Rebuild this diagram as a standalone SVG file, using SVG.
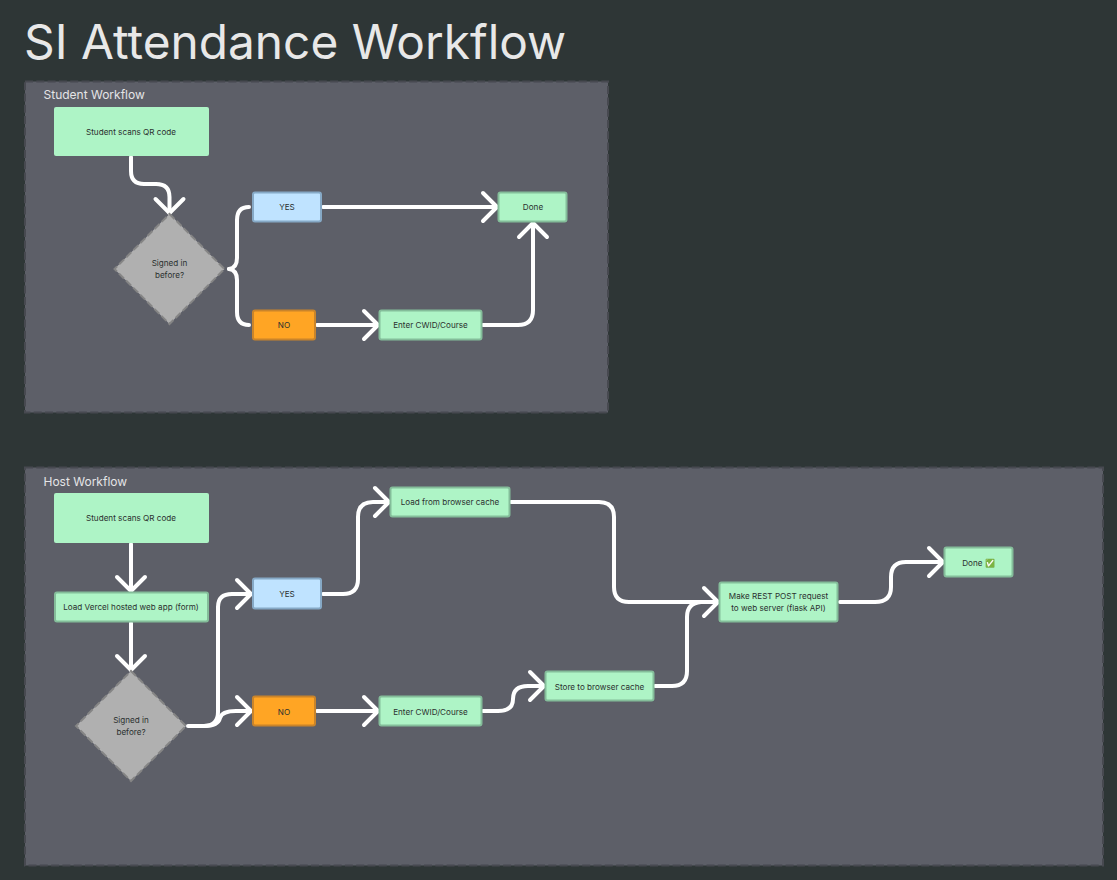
<svg xmlns="http://www.w3.org/2000/svg" width="1117" height="880" viewBox="0 0 1117 880">
<defs>
<style>
text{font-family:Inter,"Noto Sans","Liberation Sans",sans-serif;text-anchor:middle;font-size:8.15px;fill:#2b302f}
.title{font-size:47.8px;fill:#e8e8e8;text-anchor:start}
.plabel{font-size:12px;fill:#e4e4e6;text-anchor:start}
.panel{fill:#5d5f68;stroke:#474950;stroke-width:2;stroke-dasharray:8 3.300}
.g{fill:#aef4c6;stroke:#84bd9a;stroke-width:2}
.g0{fill:#aef4c6}
.b{fill:#bfe3ff;stroke:#86a9c6;stroke-width:2}
.o{fill:#ffa524;stroke:#c9842a;stroke-width:2}
.d{fill:#b0b0b0;stroke:#858585;stroke-width:2;stroke-dasharray:7 3}
.c{fill:none;stroke:#fff;stroke-width:4;stroke-linecap:round;stroke-linejoin:round}
</style>
<marker id="ah" markerUnits="userSpaceOnUse" markerWidth="36" markerHeight="36" refX="26" refY="18" orient="auto" viewBox="0 0 36 36">
<path d="M12 4L26 18L12 32" fill="none" stroke="#fff" stroke-width="4" stroke-linecap="round" stroke-linejoin="round"/>
</marker>
</defs>
<rect width="1117" height="880" fill="#2e3636"/>
<text class="title" x="24" y="59">SI Attendance Workflow</text>
<g id="panel-student"><rect class="panel" x="25" y="81.500" width="583" height="331"/><text class="plabel" x="43.500" y="99">Student Workflow</text></g>
<g id="panel-host"><rect class="panel" x="25" y="467.500" width="1078" height="398"/><text class="plabel" x="43.500" y="486">Host Workflow</text></g>
<g id="connectors">
<path class="c" marker-end="url(#ah)" d="M131 157V171Q131 184 144 184H156Q169.500 184 169.500 197V213"/>
<path class="c" d="M229 269Q237 268 237 258V220Q237 207 249 207"/>
<path class="c" d="M229 269Q237 270 237 280V312Q237 325 249 325"/>
<path class="c" marker-end="url(#ah)" d="M323 207H497"/>
<path class="c" marker-end="url(#ah)" d="M317 325H378"/>
<path class="c" marker-end="url(#ah)" d="M483 325H518Q533 325 533 310V223"/>
<path class="c" marker-end="url(#ah)" d="M131 544V591"/>
<path class="c" marker-end="url(#ah)" d="M131 623V670"/>
<path class="c" marker-end="url(#ah)" d="M188 726H204Q218 726 218 712V607Q218 594 232 594H251"/>
<path class="c" marker-end="url(#ah)" d="M204 726Q218 726 220 718Q222 711 236 711H251"/>
<path class="c" marker-end="url(#ah)" d="M323 594H343Q358 594 358 579V517Q358 502 373 502H389"/>
<path class="c" marker-end="url(#ah)" d="M317 711H378"/>
<path class="c" marker-end="url(#ah)" d="M483 711H498Q513 711 513 699Q513 686 528 686H544"/>
<path class="c" marker-end="url(#ah)" d="M511 502H599Q614 502 614 517V587Q614 602 629 602H718"/>
<path class="c" d="M655 686H672Q687 686 687 671V617Q687 603 701 602"/>
<path class="c" marker-end="url(#ah)" d="M840 602H875Q891 602 891 587V577Q891 562 906 562H943"/>
</g>
<g id="n1"><rect class="g0" x="54" y="107" width="155" height="49" rx="2"/><text x="131" y="134.500">Student scans QR code</text></g>
<g id="n2"><path class="d" d="M169.500 214L224.500 269L169.500 324L114.500 269Z"/><text x="169.500" y="266">Signed in</text><text x="169.500" y="278">before?</text></g>
<g id="n3"><rect class="b" x="253" y="192.500" width="68" height="29" rx="2"/><text x="287" y="210">YES</text></g>
<g id="n4"><rect class="o" x="253" y="310.500" width="62" height="29" rx="2"/><text x="284" y="328">NO</text></g>
<g id="n5"><rect class="g" x="379.500" y="310.500" width="102" height="29" rx="2"/><text x="430.500" y="328">Enter CWID/Course</text></g>
<g id="n6"><rect class="g" x="498.500" y="192.500" width="68" height="29" rx="2"/><text x="533" y="210">Done</text></g>
<g id="n7"><rect class="g0" x="54" y="493" width="155" height="50" rx="2"/><text x="131" y="521">Student scans QR code</text></g>
<g id="n8"><rect class="g" x="55" y="592.500" width="153" height="29" rx="2"/><text x="131" y="610">Load Vercel hosted web app (form)</text></g>
<g id="n9"><path class="d" d="M131 671L186 726L131 781L76 726Z"/><text x="131" y="723">Signed in</text><text x="131" y="735">before?</text></g>
<g id="n10"><rect class="b" x="253" y="578.500" width="68" height="30" rx="2"/><text x="287" y="597">YES</text></g>
<g id="n11"><rect class="o" x="253" y="696.500" width="62" height="29" rx="2"/><text x="284" y="714.500">NO</text></g>
<g id="n12"><rect class="g" x="379.500" y="696.500" width="102" height="29" rx="2"/><text x="430.500" y="714.500">Enter CWID/Course</text></g>
<g id="n13"><rect class="g" x="390.500" y="487.500" width="119" height="29" rx="2"/><text x="450" y="505">Load from browser cache</text></g>
<g id="n14"><rect class="g" x="545.500" y="671.500" width="108" height="29" rx="2"/><text x="599.500" y="690">Store to browser cache</text></g>
<g id="n15"><rect class="g" x="719.500" y="582.500" width="118" height="39" rx="2"/><text x="778.500" y="599">Make REST POST request</text><text x="778.500" y="611">to web server (flask API)</text></g>
<g id="n16"><rect class="g" x="944.500" y="547.500" width="68" height="29" rx="2"/><text x="978.500" y="565.500">Done ✅</text></g>
</svg>
